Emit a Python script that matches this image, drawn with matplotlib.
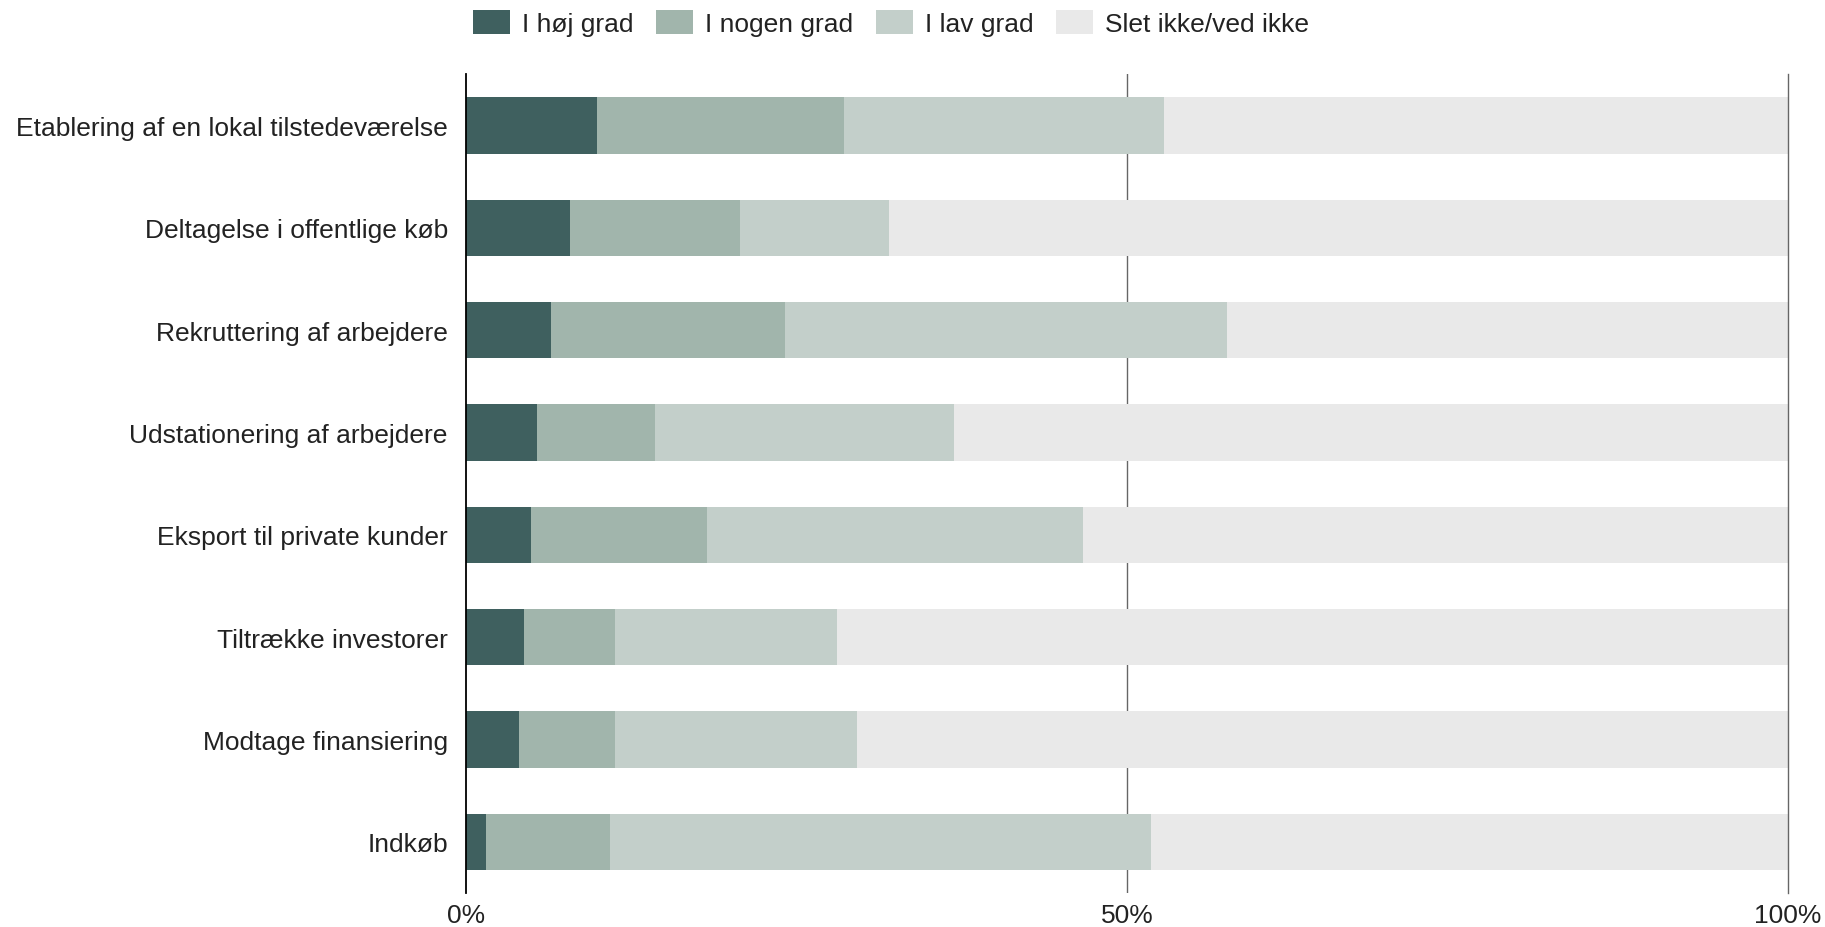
import matplotlib.pyplot as plt
import numpy as np

plt.rcParams['font.family'] = ['Liberation Sans', 'DejaVu Sans']

categories = [
    'Etablering af en lokal tilstedeværelse',
    'Deltagelse i offentlige køb',
    'Rekruttering af arbejdere',
    'Udstationering af arbejdere',
    'Eksport til private kunder',
    'Tiltrække investorer',
    'Modtage finansiering',
    'Indkøb',
]
hoej = [9.9, 7.9, 6.4, 5.4, 4.9, 4.4, 4.0, 1.5]
nogen = [18.7, 12.8, 17.7, 8.9, 13.3, 6.9, 7.3, 9.4]
lav = [24.2, 11.3, 33.5, 22.6, 28.5, 16.8, 18.3, 40.9]
slet = [47.2, 68.0, 42.4, 63.1, 53.3, 71.9, 70.4, 48.2]

series = [hoej, nogen, lav, slet]
labels = ['I høj grad', 'I nogen grad', 'I lav grad', 'Slet ikke/ved ikke']
colors = ['#3f605f', '#a1b5ac', '#c3cfca', '#e9e9e9']

fig = plt.figure(figsize=(18.25, 9.28), dpi=100)
ax = fig.add_axes([0.2553, 0.0365, 0.7244, 0.8825])

y = np.arange(len(categories))
left = np.zeros(len(categories))
for vals, lab, col in zip(series, labels, colors):
    ax.barh(y, vals, left=left, height=0.55, color=col, label=lab,
            edgecolor='none', zorder=2)
    left += np.array(vals)

ax.set_ylim(7.5, -0.5)
ax.set_xlim(0, 100)
ax.set_xticks([0, 50, 100])
ax.set_xticklabels(['0%', '50%', '100%'])
ax.set_yticks(y)
ax.set_yticklabels(categories)
ax.tick_params(axis='both', length=0, labelsize=19, colors='#222222')
ax.tick_params(axis='y', pad=13)
ax.tick_params(axis='x', pad=7)

# 50% line sits behind the bars, 100% line marks the right end
ax.axvline(50, color='#666666', lw=1.0, zorder=1)
ax.axvline(100, color='#666666', lw=1.0, zorder=3, clip_on=False)

for s in ['top', 'right', 'bottom']:
    ax.spines[s].set_visible(False)
ax.spines['left'].set_color('black')
ax.spines['left'].set_linewidth(1.3)
ax.spines['left'].set_zorder(4)

fig.legend(loc='center', bbox_to_anchor=(891 / 1825, 1 - 24 / 928),
           ncol=4, frameon=False, fontsize=19, handlelength=1.4,
           handleheight=1.06, handletextpad=0.44, columnspacing=0.87,
           borderpad=0, labelcolor='#222222')

fig.savefig('out.png', dpi=100)
